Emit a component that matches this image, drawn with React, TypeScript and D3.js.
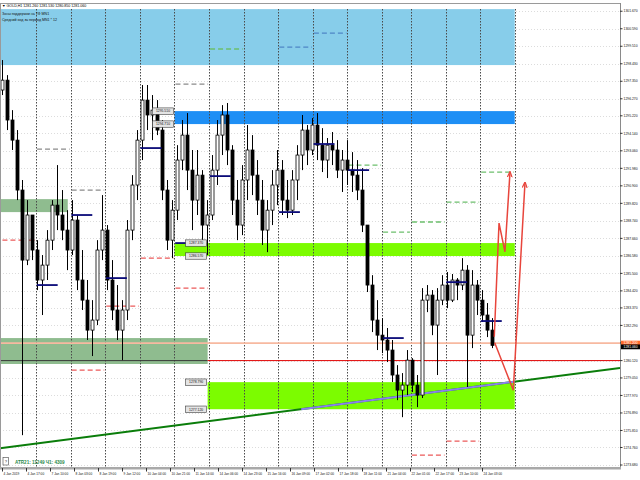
import React from 'react';
import * as d3 from 'd3';

// ---- chart data (GOLD, H1, 4 Jan – 24 Jan 2019) ----
const priceTicks = [
  1301.67, 1300.59, 1299.51, 1298.43, 1297.35, 1296.27, 1295.22, 1294.14, 1293.06,
  1291.98, 1290.9, 1289.82, 1288.74, 1287.66, 1286.58, 1285.5, 1284.42, 1283.37,
  1282.29, 1281.21, 1280.12, 1279.05, 1277.97, 1276.89, 1275.81, 1274.76, 1273.68,
];

const timeLabels = [
  '4 Jan 2019', '4 Jan 17:00', '7 Jan 10:00', '8 Jan 03:00', '8 Jan 19:00', '9 Jan 12:00',
  '10 Jan 04:00', '10 Jan 21:00', '11 Jan 14:00', '14 Jan 06:00', '14 Jan 23:00',
  '15 Jan 16:00', '16 Jan 09:00', '17 Jan 02:00', '17 Jan 18:00', '18 Jan 11:00',
  '21 Jan 04:00', '22 Jan 01:00', '22 Jan 17:00', '23 Jan 10:00', '24 Jan 03:00',
];

const dayNames = ['4 Jan', '7 Jan', '8 Jan', '9 Jan', '10 Jan', '11 Jan', '14 Jan', '15 Jan',
  '16 Jan', '17 Jan', '18 Jan', '21 Jan', '22 Jan', '23 Jan', '24 Jan'];
const dayBars = [24, 24, 24, 24, 24, 24, 24, 24, 24, 24, 24, 20, 24, 24, 24];

// open, high, low, close
const candles: number[][] = [
  [1296.81, 1298.66, 1296.5, 1297.42], [1297.42, 1297.73, 1294.34, 1294.96],
  [1294.96, 1295.57, 1293.11, 1293.72], [1293.72, 1294.34, 1290.02, 1290.64],
  [1290.64, 1291.26, 1275.52, 1286.32], [1286.32, 1290.02, 1286.01, 1289.1],
  [1289.1, 1289.1, 1286.32, 1286.94], [1286.94, 1287.55, 1284.47, 1285.09],
  [1285.09, 1286.63, 1282.93, 1286.01], [1286.01, 1288.17, 1285.09, 1287.55],
  [1287.55, 1290.02, 1286.94, 1289.71], [1289.71, 1292.18, 1288.17, 1289.1],
  [1289.1, 1290.64, 1287.55, 1288.17], [1288.17, 1289.4, 1285.7, 1286.94],
  [1286.94, 1290.02, 1286.63, 1288.79], [1288.79, 1289.1, 1284.47, 1285.09],
  [1285.09, 1286.94, 1283.24, 1283.85], [1283.85, 1285.09, 1281.39, 1282.0],
  [1282.0, 1283.85, 1280.4, 1282.62], [1282.62, 1287.55, 1282.31, 1286.94],
  [1286.94, 1290.33, 1286.32, 1288.17], [1288.17, 1288.48, 1284.47, 1285.09],
  [1285.09, 1286.32, 1282.62, 1283.24], [1283.24, 1284.78, 1281.39, 1282.0],
  [1282.0, 1283.85, 1280.15, 1283.24], [1283.24, 1288.79, 1282.62, 1288.17],
  [1288.17, 1291.56, 1287.55, 1290.95], [1290.95, 1294.34, 1290.02, 1293.72],
  [1293.72, 1297.12, 1292.49, 1296.19], [1296.19, 1297.12, 1294.34, 1295.27],
  [1295.27, 1296.5, 1293.72, 1295.57], [1295.57, 1296.19, 1294.03, 1294.34],
  [1294.34, 1294.96, 1290.02, 1290.64], [1290.64, 1291.26, 1286.94, 1287.55],
  [1287.55, 1290.02, 1286.44, 1289.4], [1289.4, 1293.41, 1288.79, 1292.49],
  [1292.49, 1294.96, 1291.87, 1294.03], [1294.03, 1295.39, 1290.64, 1291.87],
  [1291.87, 1293.11, 1288.17, 1290.02], [1290.02, 1293.11, 1289.1, 1291.56],
  [1291.56, 1291.87, 1287.55, 1288.48], [1288.48, 1290.02, 1286.63, 1289.1],
  [1289.1, 1292.8, 1288.79, 1291.87], [1291.87, 1294.96, 1290.95, 1294.03],
  [1294.03, 1295.88, 1292.8, 1295.27], [1295.27, 1296.01, 1292.18, 1293.11],
  [1293.11, 1293.41, 1289.1, 1290.02], [1290.02, 1291.26, 1287.55, 1288.48],
  [1288.48, 1292.18, 1287.86, 1291.26], [1291.26, 1294.65, 1290.02, 1293.11],
  [1293.11, 1294.03, 1290.33, 1291.56], [1291.56, 1292.49, 1289.1, 1290.02],
  [1290.02, 1291.26, 1287.25, 1288.17], [1288.17, 1290.02, 1286.81, 1289.4],
  [1289.4, 1291.87, 1288.48, 1290.95], [1290.95, 1293.11, 1289.71, 1291.87],
  [1291.87, 1292.49, 1289.1, 1290.02], [1290.02, 1291.26, 1288.91, 1289.4],
  [1289.4, 1291.87, 1289.1, 1291.26], [1291.26, 1293.41, 1290.02, 1292.8],
  [1292.8, 1295.27, 1291.87, 1294.34], [1294.34, 1294.65, 1292.18, 1293.11],
  [1293.11, 1295.08, 1292.8, 1294.65], [1294.65, 1295.39, 1292.49, 1293.41],
  [1293.41, 1294.46, 1291.75, 1292.49], [1292.49, 1293.85, 1291.38, 1293.41],
  [1293.41, 1294.22, 1292.18, 1293.11], [1293.11, 1293.72, 1291.38, 1291.87],
  [1291.87, 1293.11, 1290.52, 1292.49], [1292.49, 1293.72, 1290.95, 1291.87],
  [1291.87, 1292.98, 1290.52, 1291.56], [1291.56, 1292.49, 1290.02, 1290.64],
  [1290.64, 1291.99, 1288.05, 1288.48], [1288.48, 1288.48, 1284.35, 1284.78],
  [1284.78, 1285.39, 1281.88, 1282.62], [1282.62, 1283.85, 1280.77, 1281.69],
  [1281.69, 1282.74, 1280.58, 1281.39], [1281.39, 1282.13, 1280.03, 1280.77],
  [1280.77, 1281.39, 1278.8, 1279.23], [1279.23, 1279.84, 1277.68, 1278.3],
  [1278.3, 1279.35, 1276.63, 1278.61], [1278.61, 1280.77, 1277.99, 1280.15],
  [1280.15, 1280.27, 1278.18, 1278.61], [1278.61, 1279.23, 1277.25, 1277.99],
  [1277.99, 1284.59, 1277.81, 1283.85], [1283.85, 1284.78, 1283.11, 1284.16],
  [1284.16, 1284.47, 1281.69, 1282.31], [1282.31, 1284.59, 1279.23, 1283.85],
  [1283.85, 1285.39, 1283.54, 1284.78], [1284.78, 1285.58, 1283.36, 1283.85],
  [1283.85, 1285.46, 1283.73, 1285.09], [1285.09, 1285.21, 1283.85, 1284.78],
  [1284.78, 1286.44, 1284.47, 1285.7], [1285.7, 1286.01, 1278.49, 1281.69],
  [1281.69, 1285.7, 1280.89, 1284.78], [1284.78, 1285.09, 1282.93, 1283.85],
  [1283.85, 1284.47, 1282.5, 1282.93], [1282.93, 1283.67, 1281.57, 1282.0],
  [1282.0, 1282.74, 1280.89, 1281.06],
];
const LAST_BAR = 342;

// support / resistance zones (MN1)
const zoneKind = ['sky', 'blue', 'sea', 'lime', 'sea', 'lime'];
const zoneTop = [1301.8, 1295.51, 1290.08, 1287.37, 1281.51, 1278.79];
const zoneBottom = [1298.35, 1294.71, 1289.28, 1286.57, 1279.91, 1277.12];
const zoneFromBar = [-1, 120, -1, 120, -1, 143];
const zoneToBar = [356, 356, 46, 356, 143, 356];
const zoneLabelBar = [null, 120, null, 143, null, 143];

// daily range levels
const levelDay = [6, 10, 11, 12, 13, 14, 8, 9, 5, 1, 2, 0, 2, 3, 4, 5, 12, 13];
const levelPrice = [1299.34, 1292.18, 1288.05, 1288.67, 1289.9, 1291.75, 1299.46, 1300.32,
  1297.18, 1293.17, 1290.64, 1287.55, 1279.53, 1283.48, 1286.44, 1284.59, 1274.29, 1275.15];
const levelKind = ['up', 'up', 'up', 'up', 'up', 'up', 'mid', 'mid', 'prev', 'prev', 'prev',
  'down', 'down', 'down', 'down', 'down', 'down', 'down'];

// daily open marks
const openDay = [1, 2, 3, 4, 5, 6, 8, 9, 10, 11, 13, 14];
const openPrice = [1284.78, 1289.1, 1285.21, 1293.23, 1287.37, 1291.5, 1289.28, 1293.48,
  1291.87, 1281.51, 1284.96, 1282.56];

const trendBars = [-1, 429];
const trendPrice = [1274.72, 1279.66];

const fc1Bars = [341.8, 345.1, 349.2, 352.7];
const fc1Price = [1281.59, 1288.6, 1286.83, 1291.73];
const fc2Bars = [342.1, 355.0, 363.1];
const fc2Price = [1281.22, 1278.3, 1291.09];

const bidPrice = 1281.2;
const lastPrice = 1281.06;
const redLevel = 1280.12;

const zoneColors: Record<string, string> = {
  sky: '#87cdea', blue: '#1e8ff5', sea: '#8fbc8f', lime: '#7cfc00',
};
const levelColors: Record<string, string> = {
  up: '#6cbf6c', mid: '#4f86c6', prev: '#8a8a8a', down: '#ec5a5a',
};

const FONT = 'Liberation Sans, Arial, sans-serif';
const PLOT_R = 620;
const PLOT_T = 3;
const PLOT_B = 468;

const App: React.FC = () => {
  const x = d3.scaleLinear().domain([-1, 429]).range([0, PLOT_R]);
  const y = d3.scaleLinear().domain([1273.68, 1301.87]).range([465, 8]);
  const dayStart = Array.from(d3.cumsum([0, ...dayBars]));

  const band = d3.scaleBand<number>()
    .domain(d3.range(candles.length))
    .range([x(-1), x(LAST_BAR)])
    .paddingInner(0.4)
    .paddingOuter(0.2);

  const line = d3.line<number[]>().x(d => x(d[0])).y(d => y(d[1]));

  // trend line inside the lower lime zone is shown in a blended colour
  const slope = (trendPrice[1] - trendPrice[0]) / (trendBars[1] - trendBars[0]);
  const purpleFrom = trendBars[0] + (zoneBottom[5] - trendPrice[0]) / slope;
  const purpleTo = zoneToBar[5];
  const trendAt = (b: number) => trendPrice[0] + (b - trendBars[0]) * slope;

  const labelStep = 16.64;
  const fmt = d3.format('.3f');

  return (
    <div style={{ position: 'absolute', left: 0, top: 0 }}>
      <svg width={640} height={480} style={{ display: 'block', background: '#fff' }} fontFamily={FONT}>
        <defs>
          <marker id="arr" viewBox="0 0 6 6" refX="5" refY="3" markerWidth="4" markerHeight="4" orient="auto">
            <path d="M0,0.6 L6,3 L0,5.4" fill="none" stroke="#e8453c" strokeWidth={1.2} />
          </marker>
          <clipPath id="plot">
            <rect x={0} y={PLOT_T} width={PLOT_R} height={PLOT_B - PLOT_T} />
          </clipPath>
        </defs>

        {/* grid */}
        {priceTicks.map(p => (
          <line key={'g' + p} x1={0} x2={PLOT_R} y1={Math.round(y(p)) + 0.5} y2={Math.round(y(p)) + 0.5}
            stroke="#dcdcdc" strokeDasharray="1,2" />
        ))}

        <g clipPath="url(#plot)">
          {/* zones */}
          {zoneKind.map((k, i) => (
            <rect key={'z' + i} x={x(zoneFromBar[i])} width={x(zoneToBar[i]) - x(zoneFromBar[i])}
              y={y(zoneTop[i])} height={y(zoneBottom[i]) - y(zoneTop[i])} fill={zoneColors[k]} />
          ))}

          {/* day separators */}
          {dayStart.slice(1).map((b, i) => (
            <line key={'s' + i} x1={Math.round(x(b)) + 0.5} x2={Math.round(x(b)) + 0.5} y1={9} y2={PLOT_B}
              stroke="#4a4a4a" strokeDasharray="1.5,1.5" />
          ))}

          {/* daily range levels */}
          {levelDay.map((d, i) => (
            <line key={'l' + i} x1={x(dayStart[d]) + 1} x2={x(dayStart[d + 1]) - 1}
              y1={y(levelPrice[i])} y2={y(levelPrice[i])}
              stroke={levelColors[levelKind[i]]} strokeWidth={1.3} strokeDasharray="5,3" />
          ))}

          {/* price lines */}
          <line x1={0} x2={PLOT_R} y1={y(bidPrice)} y2={y(bidPrice)} stroke="#f7b9a0" strokeWidth={1.6} />
          <line x1={0} x2={x(zoneToBar[4])} y1={y(redLevel)} y2={y(redLevel)} stroke="#3a3a3a" strokeWidth={1} />
          <line x1={x(zoneToBar[4])} x2={PLOT_R} y1={y(redLevel)} y2={y(redLevel)} stroke="#e00000" strokeWidth={1} />

          {/* trend line */}
          <path d={line(trendBars.map((b, i) => [b, trendPrice[i]])) || ''} stroke="#0a7d0a" strokeWidth={2} fill="none" />
          <path d={line([[purpleFrom, trendAt(purpleFrom)], [purpleTo, trendAt(purpleTo)]]) || ''}
            stroke="#8c80ee" strokeWidth={2} fill="none" />

          {/* candles */}
          {candles.map((c, i) => {
            const [o, h, l, cl] = c;
            const cx = Math.round((band(i) || 0) + band.bandwidth() / 2) + 0.5;
            const top = y(Math.max(o, cl));
            const bh = Math.max(1, y(Math.min(o, cl)) - top);
            const up = cl > o;
            return (
              <g key={'c' + i}>
                <line x1={cx} x2={cx} y1={y(h)} y2={y(l)} stroke="#000" strokeWidth={1} />
                <rect x={cx - 1.5} y={top} width={3} height={bh}
                  fill={up ? '#fff' : '#000'} stroke="#000" strokeWidth={0.8} />
              </g>
            );
          })}

          {/* daily open marks */}
          {openDay.map((d, i) => (
            <line key={'o' + i} x1={x(dayStart[d] + 0.5)} x2={x(dayStart[d] + 15)}
              y1={y(openPrice[i])} y2={y(openPrice[i])} stroke="#0a0a78" strokeWidth={1.8} />
          ))}

          {/* zone price labels */}
          {zoneKind.map((k, i) => {
            const lb = zoneLabelBar[i];
            if (lb === null) return null;
            return [zoneTop[i], zoneBottom[i]].map((p, j) => (
              <g key={'zl' + i + j} transform={`translate(${x(lb) - 22},${y(p) - 3.2})`}>
                <rect width={21} height={6.4} fill="#e4e4e4" stroke="#3c3c3c" strokeWidth={0.6} />
                <text x={10.5} y={4.5} fontSize={3.4} textAnchor="middle" fill="#111">{fmt(p)}</text>
              </g>
            ));
          })}

          {/* forecast arrows */}
          <path d={line(fc1Bars.map((b, i) => [b, fc1Price[i]])) || ''} fill="none"
            stroke="#e8453c" strokeWidth={1.5} markerEnd="url(#arr)" />
          <path d={line(fc2Bars.map((b, i) => [b, fc2Price[i]])) || ''} fill="none"
            stroke="#e8453c" strokeWidth={1.5} markerEnd="url(#arr)" />
        </g>

        {/* frame */}
        <line x1={0} x2={PLOT_R} y1={PLOT_T + 0.5} y2={PLOT_T + 0.5} stroke="#9a9a9a" />
        <line x1={0.5} x2={0.5} y1={PLOT_T} y2={PLOT_B} stroke="#9a9a9a" />
        <line x1={PLOT_R + 0.5} x2={PLOT_R + 0.5} y1={PLOT_T} y2={PLOT_B} stroke="#8a8a8a" />
        <rect x={0} y={PLOT_B - 1} width={PLOT_R + 1} height={2.5} fill="#a9a9a9" />

        {/* price axis */}
        {priceTicks.map(p => (
          <g key={'t' + p} transform={`translate(${PLOT_R},${y(p)})`}>
            <line x1={0} x2={2.5} stroke="#333" />
            <text x={3.5} dy="0.35em" fontSize={3.4} fill="#111">{fmt(p)}</text>
          </g>
        ))}
        <g transform={`translate(${PLOT_R + 1},${y(bidPrice)})`}>
          <rect x={0} y={-2.4} width={19} height={4.8} fill="#ff6a2b" />
          <text x={2.5} dy="0.35em" fontSize={3.4} fill="#fff">{fmt(bidPrice)}</text>
        </g>
        <g transform={`translate(${PLOT_R + 1},${y(lastPrice) + 1.5})`}>
          <rect x={0} y={-2.4} width={19} height={4.8} fill="#000" />
          <text x={2.5} dy="0.35em" fontSize={3.4} fill="#fff">{fmt(lastPrice)}</text>
        </g>

        {/* time axis */}
        {timeLabels.map((t, k) => {
          const tx = Math.round(x(k * labelStep + 0.4)) + 0.5;
          return (
            <g key={'x' + k}>
              <line x1={tx} x2={tx} y1={PLOT_B} y2={PLOT_B + 3.5} stroke="#333" />
              <text x={tx + 1} y={PLOT_B + 6.5} fontSize={3.2} fill="#111">{t}</text>
            </g>
          );
        })}

        {/* header */}
        <text x={2} y={7.2} fontSize={3.6} fill="#000">▼ GOLD,H1  1281.260 1281.530 1280.850 1281.060</text>
        <text x={2} y={14.5} fontSize={3.6} fill="#111">Зоны поддержки на ТФ MN1</text>
        <text x={2} y={20.5} fontSize={3.6} fill="#111">Средний ход за период MN1 * 12</text>

        {/* info */}
        <rect x={3} y={457.5} width={5.5} height={7.5} fill="#fff" stroke="#444" strokeWidth={0.6} />
        <text x={5.75} y={463} fontSize={4} textAnchor="middle" fill="#222">?</text>
        <text x={15} y={463.5} fontSize={4.6} fontWeight="bold" fill="#2a8a4a">ATR21: 11249  Ч1: 4309</text>
      </svg>
    </div>
  );
};

export default App;
